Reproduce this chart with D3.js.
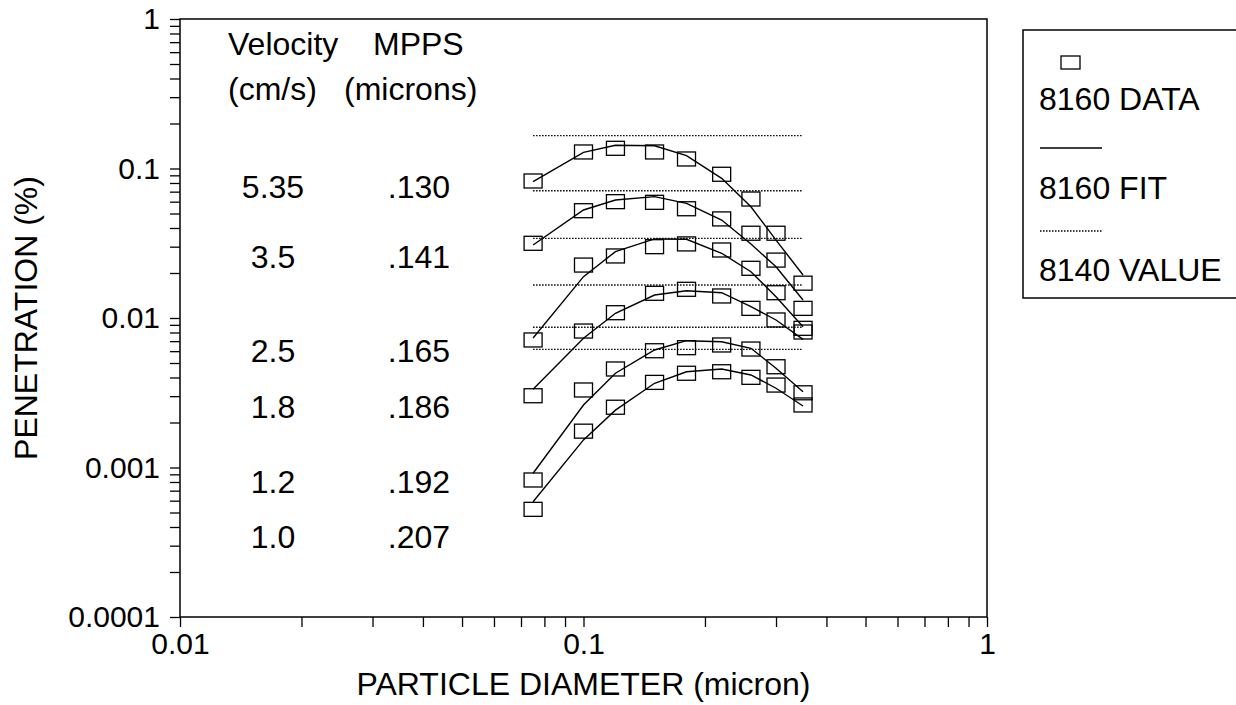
<!DOCTYPE html>
<html>
<head>
<meta charset="utf-8">
<script src="https://cdn.jsdelivr.net/npm/d3@7"></script>
<style>
    body { margin: 0; background: #fff; }
    svg { display: block; font-family: "Liberation Sans", Arial, sans-serif; }
</style>
</head>
<body>
<svg id="chart" width="1236" height="705"></svg>
<script>
// particle diameters (micron) where penetration was measured
const diameters = [0.075, 0.10, 0.12, 0.15, 0.18, 0.22, 0.26, 0.30, 0.35];

// table of velocity / most penetrating particle size
const velocities = ["5.35", "3.5", "2.5", "1.8", "1.2", "1.0"];
const mppsValues = [".130", ".141", ".165", ".186", ".192", ".207"];

// 8160 measured penetration (%), one array per velocity
const data535 = [0.0825, 0.129, 0.1365, 0.129, 0.1158, 0.0915, 0.0625, 0.0369, 0.0171];
const data350 = [0.0316, 0.0522, 0.060, 0.0594, 0.0538, 0.046, 0.0369, 0.0244, 0.0116];
const data250 = [0.00713, 0.0226, 0.026, 0.030, 0.0313, 0.0285, 0.0215, 0.01476, 0.00853];
const data180 = [0.00302, 0.00818, 0.01085, 0.01463, 0.01556, 0.01404, 0.0116, 0.0097, 0.00806];
const data120 = [0.000825, 0.0033, 0.00456, 0.00604, 0.00633, 0.0066, 0.0062, 0.00472, 0.00316];
const data100 = [0.000525, 0.00175, 0.00253, 0.00371, 0.00427, 0.00437, 0.00401, 0.00356, 0.00262];

// 8160 fitted penetration (%)
const fit535 = [0.0816, 0.1283, 0.1429, 0.142, 0.1218, 0.086, 0.0555, 0.0332, 0.0194];
const fit350 = [0.0308, 0.0528, 0.0616, 0.0648, 0.0585, 0.0452, 0.0313, 0.022, 0.0132];
const fit250 = [0.00735, 0.0189, 0.0278, 0.0338, 0.0336, 0.0271, 0.0204, 0.01388, 0.00874];
const fit180 = [0.00334, 0.00732, 0.01075, 0.01425, 0.01523, 0.01476, 0.0119, 0.0097, 0.0072];
const fit120 = [0.000915, 0.00262, 0.00427, 0.00611, 0.00705, 0.00694, 0.00627, 0.00461, 0.00321];
const fit100 = [0.00059, 0.00153, 0.00242, 0.00366, 0.00437, 0.00456, 0.00416, 0.00339, 0.00258];

// 8140 penetration value (%) per velocity
const value8140 = [0.1658, 0.071, 0.0341, 0.01662, 0.00867, 0.00617];

// axis tick labels
const xTickLabels = ["0.01", "0.1", "1"];
const yTickLabels = ["0.0001", "0.001", "0.01", "0.1", "1"];

const dataSeries = [data535, data350, data250, data180, data120, data100];
const fitSeries = [fit535, fit350, fit250, fit180, fit120, fit100];

const svg = d3.select("#chart");
const plotLeft = 180, plotRight = 987, plotTop = 19, plotBottom = 617;

const x = d3.scaleLog().domain([0.01, 1]).range([plotLeft, plotRight]);
const y = d3.scaleLog().domain([0.0001, 1]).range([plotBottom, plotTop]);

// every 1..9 step of each decade
function logTicks(lo, hi) {
    const out = [];
    for (let e = Math.round(Math.log10(lo)); e < Math.round(Math.log10(hi)); e++) {
        for (let m = 1; m < 10; m++) out.push(m * Math.pow(10, e));
    }
    out.push(hi);
    return out;
}
const isMajor = (v) => Math.abs(Math.log10(v) - Math.round(Math.log10(v))) < 1e-9;

svg.append("rect").attr("width", 1236).attr("height", 705).attr("fill", "#fff");

// x axis
const xAxis = d3.axisBottom(x)
    .tickValues(logTicks(0.01, 1))
    .tickSize(10)
    .tickSizeOuter(0)
    .tickPadding(6)
    .tickFormat((d) => isMajor(d) ? xTickLabels[Math.round(Math.log10(d)) + 2] : "");
const gx = svg.append("g").attr("transform", `translate(0,${plotBottom})`).call(xAxis);

// y axis
const yAxis = d3.axisLeft(y)
    .tickValues(logTicks(0.0001, 1))
    .tickSize(10)
    .tickSizeOuter(0)
    .tickPadding(10)
    .tickFormat((d) => isMajor(d) ? yTickLabels[Math.round(Math.log10(d)) + 4] : "");
const gy = svg.append("g").attr("transform", `translate(${plotLeft},0)`).call(yAxis);

[gx, gy].forEach((g) => {
    g.select(".domain").remove();
    g.selectAll("line").attr("stroke", "#000").attr("stroke-width", 1.3);
    g.selectAll("text").attr("fill", "#000").style("font-size", "30px");
});

// plot frame
svg.append("rect")
    .attr("x", plotLeft).attr("y", plotTop)
    .attr("width", plotRight - plotLeft).attr("height", plotBottom - plotTop)
    .attr("fill", "none").attr("stroke", "#000").attr("stroke-width", 1.5);

// axis titles
svg.append("text")
    .attr("x", (plotLeft + plotRight) / 2).attr("y", 695)
    .attr("text-anchor", "middle").style("font-size", "32px")
    .text("PARTICLE DIAMETER (micron)");
svg.append("text")
    .attr("transform", `translate(37,${(plotTop + plotBottom) / 2}) rotate(-90)`)
    .attr("text-anchor", "middle").style("font-size", "32px")
    .text("PENETRATION (%)");

// 8140 values as dotted horizontal lines
svg.append("g").selectAll("line")
    .data(value8140)
    .join("line")
    .attr("x1", x(diameters[0]))
    .attr("x2", x(diameters[diameters.length - 1]))
    .attr("y1", (d) => y(d)).attr("y2", (d) => y(d))
    .attr("stroke", "#000").attr("stroke-width", 1.3)
    .attr("stroke-dasharray", "1.5,1.5");

// fitted curves
const line = d3.line()
    .x((d, i) => x(diameters[i]))
    .y((d) => y(d));
svg.append("g").selectAll("path")
    .data(fitSeries)
    .join("path")
    .attr("d", line)
    .attr("fill", "none").attr("stroke", "#000").attr("stroke-width", 1.4);

// data squares
const boxW = 18, boxH = 14;
dataSeries.forEach((series) => {
    svg.append("g").selectAll("rect")
        .data(series)
        .join("rect")
        .attr("x", (d, i) => x(diameters[i]) - boxW / 2)
        .attr("y", (d) => y(d) - boxH / 2)
        .attr("width", boxW).attr("height", boxH)
        .attr("fill", "none").attr("stroke", "#000").attr("stroke-width", 1.3);
});

// velocity / MPPS table
const table = svg.append("g").style("font-size", "32px");
table.append("text").attr("x", 228).attr("y", 55).text("Velocity");
table.append("text").attr("x", 373).attr("y", 55).text("MPPS");
table.append("text").attr("x", 228).attr("y", 100).text("(cm/s)");
table.append("text").attr("x", 344).attr("y", 100).text("(microns)");
const rowBaselines = [198, 268, 362, 418, 493, 548];
velocities.forEach((v, i) => {
    table.append("text").attr("x", 273).attr("y", rowBaselines[i])
        .attr("text-anchor", "middle").text(v);
    table.append("text").attr("x", 419).attr("y", rowBaselines[i])
        .attr("text-anchor", "middle").text(mppsValues[i]);
});

// legend
const legend = svg.append("g").style("font-size", "32px");
legend.append("rect")
    .attr("x", 1023).attr("y", 30).attr("width", 240).attr("height", 268)
    .attr("fill", "none").attr("stroke", "#000").attr("stroke-width", 1.5);
legend.append("rect")
    .attr("x", 1061).attr("y", 56).attr("width", 19).attr("height", 13)
    .attr("fill", "none").attr("stroke", "#000").attr("stroke-width", 1.3);
legend.append("text").attr("x", 1039).attr("y", 110).text("8160 DATA");
legend.append("line")
    .attr("x1", 1040).attr("x2", 1102).attr("y1", 148).attr("y2", 148)
    .attr("stroke", "#000").attr("stroke-width", 1.3);
legend.append("text").attr("x", 1039).attr("y", 199).text("8160 FIT");
legend.append("line")
    .attr("x1", 1040).attr("x2", 1102).attr("y1", 231).attr("y2", 231)
    .attr("stroke", "#000").attr("stroke-width", 1.3)
    .attr("stroke-dasharray", "1.5,1.5");
legend.append("text").attr("x", 1039).attr("y", 281).text("8140 VALUE");
</script>
</body>
</html>
